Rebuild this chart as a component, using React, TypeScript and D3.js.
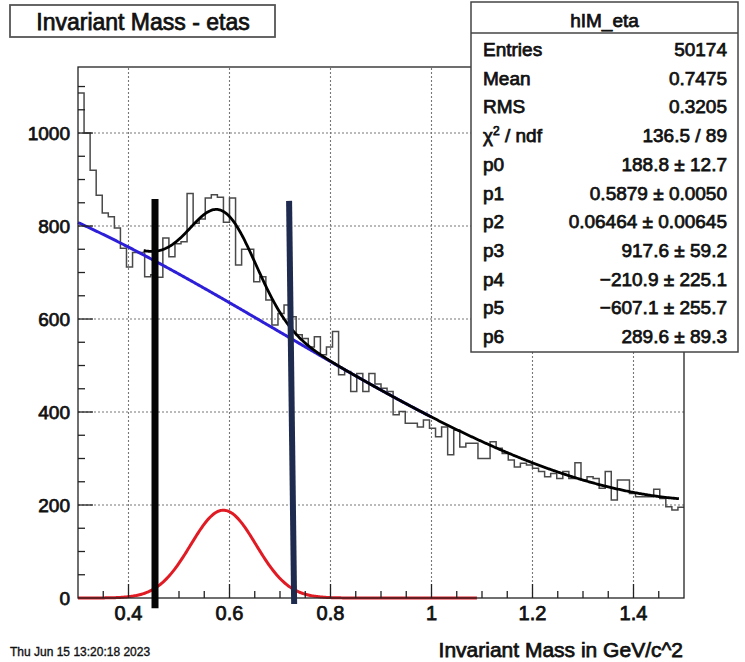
import React from 'react';
import * as d3 from 'd3';

const W = 745;
const H = 662;

// histogram hIM_eta: 100 bins from 0.3 to 1.5
const binLo = 0.3;
const binW = 0.012;
const counts = [
  1086, 1000, 920, 866, 828, 820, 796, 752, 712, 743,
  743, 691, 695, 690, 774, 734, 762, 766, 870, 806,
  815, 860, 867, 862, 808, 860, 716, 750, 750, 680,
  691, 641, 587, 612, 630, 605, 566, 558, 540, 562,
  523, 540, 573, 480, 487, 444, 483, 444, 483, 460,
  451, 444, 394, 401, 376, 376, 368, 383, 365, 347,
  368, 308, 361, 325, 333, 333, 300, 300, 336, 322,
  311, 297, 282, 290, 286, 279, 272, 261, 268, 257,
  272, 257, 291, 254, 261, 257, 236, 272, 211, 254,
  254, 225, 218, 218, 218, 234, 214, 196, 189, 195,
];

// gaus(p0,p1,p2) + pol3(p3..p6)
const fitPars = [188.8, 0.5879, 0.06464, 917.6, -210.9, -607.1, 289.6];
const fitRange = [0.43, 1.49];
const bkgRange = [0.3, 1.0];
const sigRange = [0.3, 1.09];

const statLabels = ['Entries', 'Mean', 'RMS', 'chi2', 'p0', 'p1', 'p2', 'p3', 'p4', 'p5', 'p6'];
const statValues = [
  '50174', '0.7475', '0.3205', '136.5 / 89',
  '188.8 \u00b1 12.7', '0.5879 \u00b1 0.0050', '0.06464 \u00b1 0.00645',
  '917.6 \u00b1 59.2', '\u2212210.9 \u00b1 225.1', '\u2212607.1 \u00b1 255.7', '289.6 \u00b1 89.3',
];

const xTicks = [0.4, 0.6, 0.8, 1, 1.2, 1.4];
const yTicks = [0, 200, 400, 600, 800, 1000];

// hand drawn cut markers (x top, x bottom, y top, y bottom)
const cuts = [
  { xa: 0.4525, xb: 0.4525, ya: 858, yb: -22, color: '#050505', w: 7 },
  { xa: 0.718, xb: 0.728, ya: 854, yb: -13, color: '#1e2b4f', w: 6 },
];

const font = "'Liberation Sans', Arial, Helvetica, sans-serif";

const gaus = (x: number) => fitPars[0] * Math.exp(-0.5 * ((x - fitPars[1]) / fitPars[2]) ** 2);
const pol3 = (x: number) => fitPars[3] + fitPars[4] * x + fitPars[5] * x * x + fitPars[6] * x * x * x;

export default function App() {
  const x = d3.scaleLinear().domain([0.3, 1.5]).range([78, 684]);
  const y = d3.scaleLinear().domain([0, 1142]).range([598, 67]);

  const histPts: [number, number][] = counts.map((c, i) => [binLo + i * binW, c]);
  histPts.push([binLo + counts.length * binW, counts[counts.length - 1]]);
  const histPath = d3.line<[number, number]>()
    .x(d => x(d[0]))
    .y(d => y(d[1]))
    .curve(d3.curveStepAfter)(histPts);

  const fline = d3.line<number>().curve(d3.curveLinear);
  const sample = (r: number[], f: (v: number) => number) =>
    fline.x(v => x(v)).y(v => y(f(v)))(d3.range(r[0], r[1] + 0.0001, 0.002));

  const bkgPath = sample(bkgRange, pol3);
  const fitPath = sample(fitRange, v => gaus(v) + pol3(v));
  const sigPath = sample(sigRange, gaus);

  const xMinor = d3.range(0.35, 1.5, 0.05);
  const yMinor = d3.range(50, 1142, 50);

  const boxX = 471, boxY = 2, boxW = 267, boxH = 350;
  const rowY = (i: number) => 56 + i * 28.7;

  const txt = { fontFamily: font, fill: '#111', stroke: '#111', strokeWidth: 0.75 };

  return (
    <div style={{ position: 'absolute', left: 0, top: 0 }}>
      <svg width={W} height={H} style={{ display: 'block', background: '#fff' }}>
        {/* grid */}
        <g stroke="#777" strokeWidth={1.1} strokeDasharray="2,2">
          {xTicks.map(t => (
            <line key={'gx' + t} x1={x(t)} x2={x(t)} y1={y(0)} y2={67} />
          ))}
          {yTicks.filter(t => t > 0).map(t => (
            <line key={'gy' + t} x1={78} x2={684} y1={y(t)} y2={y(t)} />
          ))}
        </g>

        {/* histogram */}
        <path d={histPath || ''} fill="none" stroke="#4a4a4a" strokeWidth={1.5} />

        {/* fit functions */}
        <path d={bkgPath || ''} fill="none" stroke="#2d1fd8" strokeWidth={3} />
        <path d={fitPath || ''} fill="none" stroke="#000" strokeWidth={2.8} />
        <path d={sigPath || ''} fill="none" stroke="#e01b24" strokeWidth={3} />

        {/* frame */}
        <rect x={78} y={67} width={606} height={531} fill="none" stroke="#222" strokeWidth={1.3} />

        {/* ticks */}
        <g stroke="#222" strokeWidth={1.3}>
          {yMinor.map(t => (
            <line key={'ym' + t} x1={78} x2={t % 200 === 0 ? 93 : 85} y1={y(t)} y2={y(t)} />
          ))}
          {xMinor.map(t => (
            <line key={'xm' + t} x1={x(t)} x2={x(t)} y1={598}
              y2={Math.abs(t * 5 - Math.round(t * 5)) < 1e-6 ? 584 : 591} />
          ))}
        </g>

        {/* tick labels */}
        <g style={txt} fontSize={19}>
          {yTicks.map(t => (
            <text key={'yl' + t} x={70} y={y(t) + 7} textAnchor="end">{t}</text>
          ))}
        </g>
        <g style={txt} fontSize={20}>
          {xTicks.map(t => (
            <text key={'xl' + t} x={x(t)} y={620} textAnchor="middle">{t}</text>
          ))}
        </g>

        {/* cut markers */}
        {cuts.map((c, i) => (
          <line key={'cut' + i} x1={x(c.xa)} x2={x(c.xb)} y1={y(c.ya)} y2={y(c.yb)}
            stroke={c.color} strokeWidth={c.w} />
        ))}

        {/* title box */}
        <rect x={10} y={5} width={265} height={32} fill="#fff" stroke="#555" strokeWidth={1.8} />
        <text x={143} y={30} textAnchor="middle" fontSize={23} style={txt}>Invariant Mass - etas</text>

        {/* stats box */}
        <rect x={boxX} y={boxY} width={boxW} height={boxH} fill="#fff" stroke="#444" strokeWidth={1.5} />
        <line x1={boxX} x2={boxX + boxW} y1={33} y2={33} stroke="#444" strokeWidth={1.3} />
        <text x={boxX + boxW / 2} y={27} textAnchor="middle" fontSize={19} style={txt}>hIM_eta</text>
        {statLabels.map((l, i) => (
          <g key={'st' + i} style={txt} fontSize={19}>
            {l === 'chi2' ? (
              <text x={483} y={rowY(i)}>
                {'\u03c7'}<tspan dy={-7} fontSize={12}>2</tspan><tspan dy={7}> / ndf</tspan>
              </text>
            ) : (
              <text x={483} y={rowY(i)}>{l}</text>
            )}
            <text x={727} y={rowY(i)} textAnchor="end">{statValues[i]}</text>
          </g>
        ))}

        {/* axis title and date */}
        <text x={683} y={657} textAnchor="end" fontSize={21} style={txt}>Invariant Mass in GeV/c^2</text>
        <text x={10} y={656} fontSize={12} style={{ ...txt, strokeWidth: 0.35 }}>Thu Jun 15 13:20:18 2023</text>
      </svg>
    </div>
  );
}
